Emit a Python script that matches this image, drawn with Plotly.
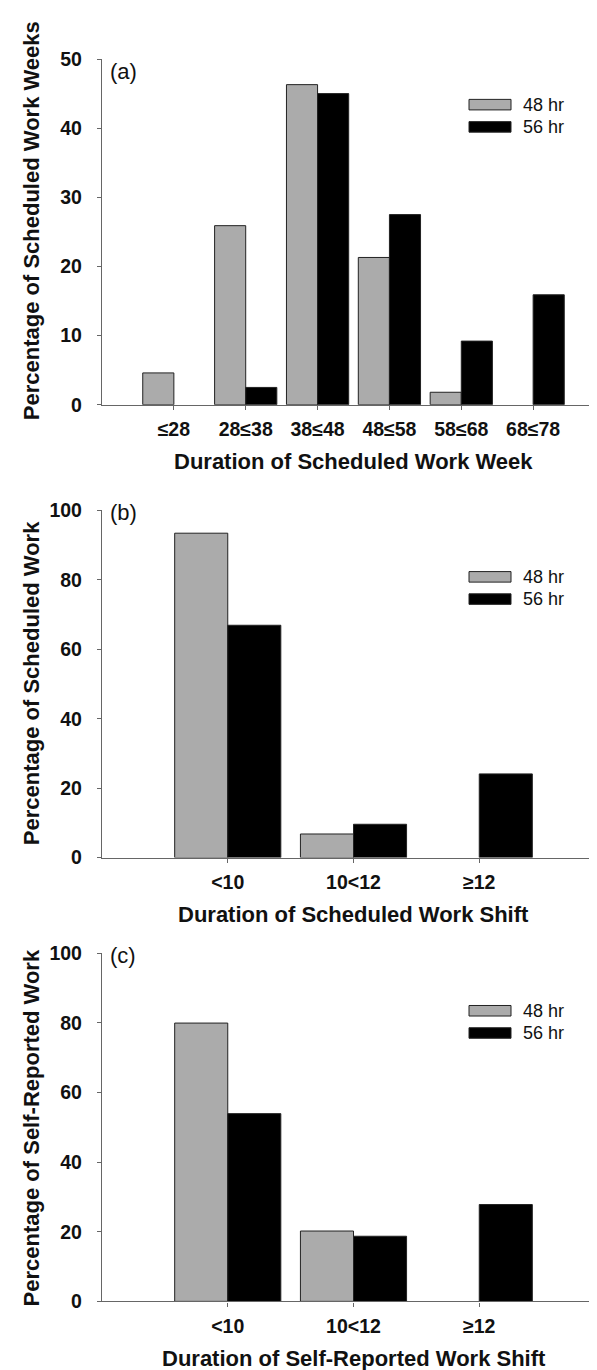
import plotly.graph_objects as go

W, H = 597, 1370

# ---------------- data ----------------
series_names = ["48 hr", "56 hr"]

week_cats = ["≤28", "28≤38", "38≤48", "48≤58", "58≤68", "68≤78"]
week_48 = [4.6, 25.9, 46.3, 21.3, 1.8, 0]
week_56 = [0, 2.5, 45.0, 27.5, 9.2, 15.9]

shift_cats = ["<10", "10<12", "≥12"]
sched_48 = [93.4, 6.8, 0]
sched_56 = [66.9, 9.6, 24.1]

self_48 = [79.9, 20.2, 0]
self_56 = [53.9, 18.7, 27.8]

panel_labels = ["(a)", "(b)", "(c)"]
x_titles = ["Duration of Scheduled Work Week",
            "Duration of Scheduled Work Shift",
            "Duration of Self-Reported Work Shift"]
y_titles = ["Percentage of Scheduled Work Weeks",
            "Percentage of Scheduled Work",
            "Percentage of Self-Reported Work"]

# ---------------- style / layout ----------------
GRAY = "#ABABAB"
BLACK = "#000000"
EDGE = "#222222"
AXC = "#666666"
TXT = "#111111"
FONT = "Liberation Sans, Arial, sans-serif"
TICK_SIZE = 19.5
TITLE_SIZE = 22
LEG_SIZE = 18

def px_x(p):
    return p / W

def px_y(p):
    return 1 - p / H

panels = [
    dict(cats=week_cats, a=week_48, b=week_56, top=40.7, bot=392.0,
         yr=[0, 50], dt=10, xr=[-1, 6], bw=0.433,
         ytc=205.5, lab=53.0, leg=41.0),
    dict(cats=shift_cats, a=sched_48, b=sched_56, top=499.3, bot=852.3,
         yr=[0, 100], dt=20, xr=[-1, 3], bw=0.422,
         ytc=675.0, lab=502.0, leg=62.3),
    dict(cats=shift_cats, a=self_48, b=self_56, top=949.3, bot=1303.3,
         yr=[0, 100], dt=20, xr=[-1, 3], bw=0.422,
         ytc=1127.5, lab=952.0, leg=53.3),
]

X0 = 94.0
fig = go.Figure()
annotations = []
shapes = []

for i, p in enumerate(panels):
    sfx = "" if i == 0 else str(i + 1)
    xa, ya = "x" + sfx, "y" + sfx
    for vals, col, nm, off in [(p["a"], GRAY, series_names[0], -p["bw"]),
                               (p["b"], BLACK, series_names[1], 0.0)]:
        fig.add_trace(go.Bar(
            x=p["cats"], y=vals, name=nm, xaxis=xa, yaxis=ya,
            width=p["bw"], offset=off,
            marker=dict(color=col,
                        line=dict(color=EDGE, width=[1 if v > 0 else 0 for v in vals])),
            showlegend=False,
        ))
    axkw = dict(showgrid=False, zeroline=False, showline=True,
                linecolor=AXC, linewidth=1.3, ticks="outside", ticklen=4,
                tickcolor=AXC, tickwidth=1.3)
    fig.layout["xaxis" + sfx] = dict(
        domain=[px_x(X0), 1], anchor=ya, type="category",
        range=p["xr"], tickfont=dict(family=FONT, size=TICK_SIZE, color=TXT, weight="bold"),
        ticklabelstandoff=3, **axkw)
    fig.layout["yaxis" + sfx] = dict(
        domain=[px_y(p["bot"]), px_y(p["top"])], anchor=xa,
        range=p["yr"], dtick=p["dt"], tick0=0,
        tickfont=dict(family=FONT, size=TICK_SIZE, color=TXT, weight="bold"),
        ticklabelstandoff=11, **axkw)

    # axis titles
    annotations.append(dict(
        text=x_titles[i], xref="paper", yref="paper",
        x=px_x((X0 + W) / 2), y=px_y(p["bot"] + 58), xanchor="center", yanchor="middle",
        showarrow=False, font=dict(family=FONT, size=TITLE_SIZE, color=TXT, weight="bold")))
    annotations.append(dict(
        text=y_titles[i], xref="paper", yref="paper", textangle=-90,
        x=px_x(23), y=px_y(p["ytc"]), xanchor="center", yanchor="middle",
        showarrow=False, font=dict(family=FONT, size=TITLE_SIZE, color=TXT, weight="bold")))
    # panel label
    annotations.append(dict(
        text=panel_labels[i], xref="paper", yref="paper",
        x=px_x(100), y=px_y(p["lab"]), xanchor="left", yanchor="middle",
        showarrow=False, font=dict(family=FONT, size=22, color=TXT)))
    # legend
    for k, (nm, col) in enumerate(zip(series_names, [GRAY, BLACK])):
        t = p["top"] + p["leg"] + k * 22.6
        shapes.append(dict(type="rect", xref="paper", yref="paper",
                           x0=px_x(461), x1=px_x(503), y0=px_y(t + 10.7), y1=px_y(t),
                           fillcolor=col, line=dict(color=EDGE, width=1)))
        annotations.append(dict(
            text=nm, xref="paper", yref="paper",
            x=px_x(513), y=px_y(t + 5.5), xanchor="left", yanchor="middle",
            showarrow=False, font=dict(family=FONT, size=LEG_SIZE, color=TXT)))

fig.update_layout(
    width=W, height=H, margin=dict(l=0, r=0, t=0, b=0),
    paper_bgcolor="white", plot_bgcolor="white",
    barmode="overlay", showlegend=False,
    annotations=annotations, shapes=shapes,
)

fig.write_html("out.html")
